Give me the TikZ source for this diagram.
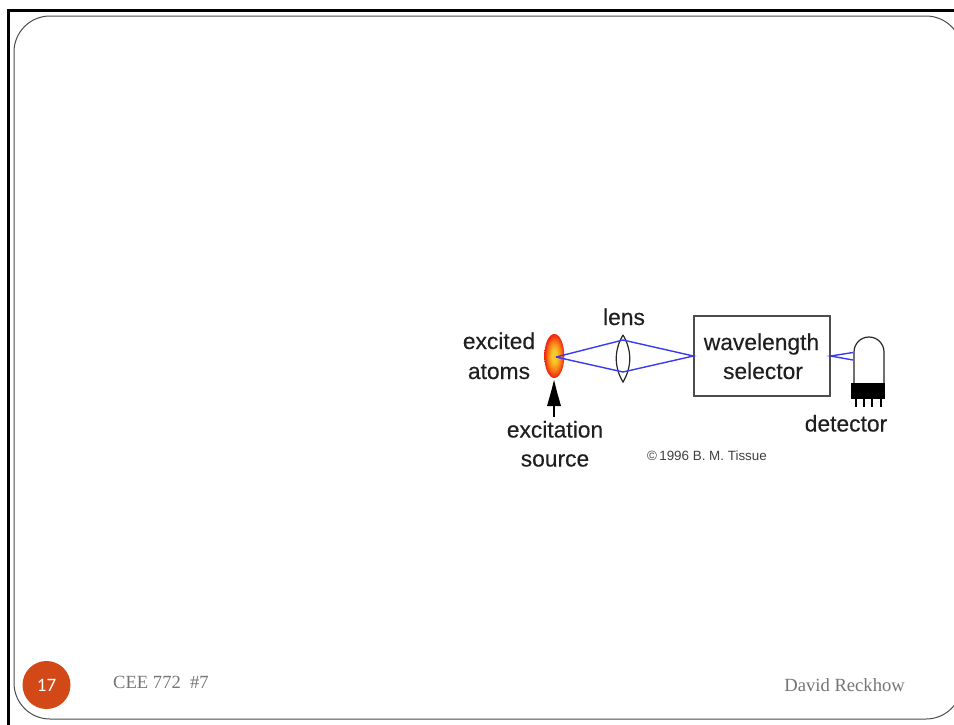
\documentclass[tikz,border=0pt]{standalone}
\usepackage{fontspec}
\setmainfont{Liberation Sans}
\newfontfamily\serifft{Liberation Serif}
\newfontfamily\numft{Carlito}
\newfontfamily\boldishft[FakeBold=0.25]{Liberation Sans}
\definecolor{accent}{HTML}{D34817}
\definecolor{footgray}{HTML}{767676}
\definecolor{raybl}{HTML}{3A3AF0}
\definecolor{glow}{HTML}{F8C828}
\definecolor{midglow}{HTML}{F88018}
\definecolor{rim}{HTML}{F02A10}
\pgfdeclareradialshading{atomglow}{\pgfpoint{0bp}{0bp}}{color(0bp)=(glow); color(7bp)=(glow); color(16bp)=(midglow); color(24bp)=(rim); color(50bp)=(rim)}
\tikzset{
  x=1pt,y=-1pt,
  lbl/.style={inner sep=0pt,font=\boldishft\fontsize{22.8}{24}\selectfont,text=black!88},
  foot/.style={inner sep=0pt,font=\serifft\fontsize{18.6}{20}\selectfont,text=footgray},
  ray/.style={draw=raybl,line width=1.4pt},
  thinblk/.style={draw=black!85,line width=1.2pt},
  pin/.style={draw=black,line width=1.2pt}
}
\begin{document}
\begin{tikzpicture}
\useasboundingbox (0,0) rectangle (954,724);
\clip (0,0) rectangle (954,724);
\fill[white] (0,0) rectangle (954,724);
% frames
\draw[black,line width=2.8pt] (8.8,730) -- (8.8,10.3) -- (960,10.3);
\draw[draw=black!70,line width=1pt,rounded corners=36pt] (14,16) rectangle (962,719);
% footer
\node[circle,fill=accent,minimum size=48pt,inner sep=0pt,text=white,font=\numft\fontsize{19}{20}\selectfont] (num) at (46.5,685) {17};
\node[foot,anchor=west] (course) at (113,682) {CEE 772\ \ \#7};
\node[foot,anchor=east] (author) at (905,685) {David Reckhow};
% rays and points
\coordinate (src) at (556,357);
\coordinate (lt) at (623,340);
\coordinate (lb) at (623,372);
% excited atoms
\path[shading=atomglow] (554.3,356) ellipse [x radius=10,y radius=22];
% lens
\coordinate (lenstop) at (623,335);
\coordinate (lensbot) at (623,382);
\draw[thinblk] (lenstop) .. controls (614,350) and (614,367) .. (lensbot) .. controls (632,367) and (632,350) .. (lenstop);
% box
\node[draw=black!70,line width=1.2pt,minimum width=136pt,minimum height=80pt,inner sep=0pt] (sel) at (762,356) {};
\node[lbl,anchor=base] (w1) at (761.5,350) {wavelength};
\node[lbl,anchor=base] (w2) at (763,379) {selector};
\draw[ray] (src) -- (lt) -- (sel.west) -- (lb) -- (src);
% detector
\coordinate (dl) at (854,383);
\coordinate (dr) at (884,383);
\draw[thinblk] (dl) -- (854,352) arc[start angle=180,end angle=360,radius=15] -- (dr);
\node[fill=black,minimum width=34pt,minimum height=16pt,inner sep=0pt] (dbase) at (868,391) {};
\coordinate (rtop) at (853,352.5);
\coordinate (rbot) at (853,360);
\draw[ray] (rtop) -- (sel.east) -- (rbot);
\foreach \p in {856,864,872,881}{\draw[pin] (\p,399) -- (\p,407);}
% arrow
\coordinate (atip) at (554,380);
\coordinate (atail) at (554,417);
\fill[black] (atip) -- (557,392) -- (561,406) -- (547,406) -- (551,392) -- cycle;
\draw[black,line width=1.8pt] (atail) -- (554,400);
% labels
\node[lbl,anchor=base] (t1) at (624,325) {lens};
\node[lbl,anchor=base] (t2) at (499,349) {excited};
\node[lbl,anchor=base] (t3) at (499,379) {atoms};
\node[lbl,anchor=base] (t4) at (555,437.5) {excitation};
\node[lbl,anchor=base] (t5) at (555,466.5) {source};
\node[lbl,anchor=base] (t6) at (846,431.5) {detector};
\node[anchor=base west,inner sep=0pt,font=\fontsize{13.4}{14}\selectfont,text=black!75] (t7) at (647,460.5) {©\,1996 B. M. Tissue};
\end{tikzpicture}
\end{document}
